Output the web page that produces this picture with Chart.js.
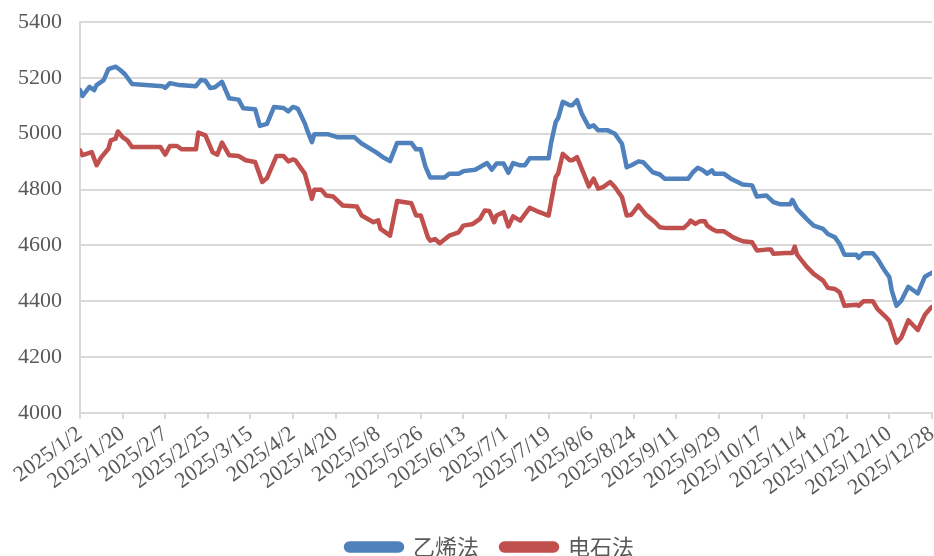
<!DOCTYPE html>
<html>
<head>
<meta charset="utf-8">
<script src="https://cdn.jsdelivr.net/npm/chart.js@4"></script>
<style>
html,body{margin:0;padding:0;background:#fff;}
#wrap{width:934px;height:556px;}
</style>
</head>
<body>
<div id="wrap"><canvas id="c" width="934" height="556"></canvas></div>
<script>
// Day offsets from 2025/1/2 and values
const startDate = [2025, 0, 2];
const tickLabelsStepDays = 18;
const seriesNames = ["乙烯法", "电石法"];

const ethDays = [0,1,4,6,7,10,12,15,17,19,22,35,36,38,42,49,51,53,55,57,
  60,63,67,69,74,76,79,82,86,88,90,92,95,96,98,99,105,109,116,119,
  125,128,131,134,140,142,144,146,148,154,156,160,162,167,172,174,176,179,181,183,
  186,188,190,198,199,201,202,204,207,208,210,212,215,217,219,223,226,229,231,233,
  236,238,242,245,247,257,259,261,263,265,267,268,272,275,280,284,286,290,293,296,
  300,301,303,307,310,314,316,319,321,323,328,329,331,335,337,340,342,343,345,347,
  350,354,357,359,360];
const ethVals = [5156,5135,5168,5156,5174,5192,5231,5240,5228,5213,5178,5170,5164,5181,5174,5170,5192,5190,5164,5166,
  5186,5127,5122,5091,5088,5028,5035,5096,5092,5080,5096,5090,5037,5012,4970,4998,4998,4987,4987,4965,
  4934,4916,4902,4967,4967,4944,4944,4881,4843,4843,4857,4857,4866,4871,4895,4871,4893,4893,4860,4895,
  4887,4887,4912,4912,4965,5042,5055,5114,5102,5102,5120,5072,5024,5030,5012,5012,5000,4964,4880,4887,
  4901,4898,4862,4854,4839,4839,4862,4878,4870,4857,4869,4857,4857,4839,4818,4815,4775,4779,4755,4747,
  4747,4763,4731,4695,4671,4659,4641,4629,4605,4567,4567,4555,4572,4572,4552,4510,4486,4438,4384,4402,
  4452,4428,4488,4498,4502];

const carbDays = [0,1,5,7,9,12,13,15,16,18,20,22,34,36,38,41,43,49,50,53,
  56,58,60,63,67,70,74,77,79,83,86,88,90,91,95,98,99,102,104,107,
  111,117,119,124,126,127,131,134,140,142,144,147,148,150,152,156,160,162,166,169,
  171,173,175,176,179,181,183,186,190,193,198,201,202,204,207,208,210,214,215,217,
  219,221,224,226,229,231,233,236,239,243,245,248,255,257,258,260,262,264,265,267,
  269,272,276,280,284,286,290,292,293,298,301,302,303,307,310,314,316,319,321,323,
  328,329,331,335,337,340,342,345,347,350,354,357,359,360];
const carbVals = [4940,4923,4934,4887,4916,4946,4976,4982,5008,4988,4976,4952,4952,4925,4956,4956,4944,4944,5004,4994,
  4934,4925,4968,4923,4920,4905,4899,4827,4841,4920,4920,4901,4908,4905,4857,4767,4799,4799,4779,4775,
  4743,4739,4707,4683,4690,4659,4635,4759,4751,4707,4707,4629,4617,4623,4608,4635,4647,4671,4677,4695,
  4725,4723,4683,4707,4719,4668,4704,4689,4735,4723,4707,4845,4857,4928,4905,4905,4916,4833,4811,4839,
  4803,4809,4827,4809,4773,4707,4710,4743,4711,4683,4665,4662,4662,4677,4689,4677,4687,4687,4671,4659,
  4651,4651,4629,4615,4611,4582,4585,4585,4570,4573,4573,4596,4567,4524,4498,4474,4448,4444,4432,4384,
  4388,4384,4400,4400,4372,4348,4330,4252,4270,4332,4297,4352,4372,4380];

const yMin = 4000, yMax = 5400, yStep = 200;
const xMax = 360;

function dayLabel(v) {
  const d = new Date(Date.UTC(startDate[0], startDate[1], startDate[2]) + v * 86400000);
  return d.getUTCFullYear() + "/" + (d.getUTCMonth() + 1) + "/" + d.getUTCDate();
}
function pts(days, vals) { return days.map((d, i) => ({x: d, y: vals[i]})); }

const gray = "#595959";
const gridC = "#d9d9d9";

const legendShift = {
  id: "legendShift",
  beforeDraw(chart) {
    const l = chart.legend;
    if (!l) return;
    const w = l.right - l.left;
    const c = 490;
    l.left = c - w / 2;
    l.right = c + w / 2;
  }
};

new Chart(document.getElementById("c"), {
  type: "line",
  data: {
    datasets: [
      {label: seriesNames[0], data: pts(ethDays, ethVals), borderColor: "#4f81bd", backgroundColor: "#4f81bd",
       borderWidth: 4.5, pointRadius: 0, tension: 0, borderJoinStyle: "round", borderCapStyle: "round"},
      {label: seriesNames[1], data: pts(carbDays, carbVals), borderColor: "#c0504d", backgroundColor: "#c0504d",
       borderWidth: 4.5, pointRadius: 0, tension: 0, borderJoinStyle: "round", borderCapStyle: "round"}
    ]
  },
  plugins: [legendShift],
  options: {
    responsive: false,
    animation: false,
    layout: {padding: {left: 2, right: 2, top: 22, bottom: -12}},
    plugins: {
      tooltip: {enabled: false},
      legend: {
        position: "bottom",
        labels: {
          color: gray,
          font: {family: "'Noto Sans CJK SC'", size: 22},
          boxWidth: 56, boxHeight: 7, padding: 22,
          useBorderRadius: true, borderRadius: 3.5
        }
      }
    },
    scales: {
      x: {
        type: "linear", min: 0, max: xMax,
        afterFit: s => { s.height = 101; s.paddingLeft = 0; s.paddingRight = 0; },
        ticks: {
          stepSize: tickLabelsStepDays, autoSkip: false,
          minRotation: 36, maxRotation: 36,
          color: gray, font: {family: "'Liberation Serif'", size: 22},
          padding: 2,
          callback: v => dayLabel(v)
        },
        grid: {display: true, drawOnChartArea: false, drawTicks: true, tickLength: 6, color: gridC, lineWidth: 2},
        border: {display: true, color: gridC, width: 2}
      },
      y: {
        min: yMin, max: yMax,
        afterFit: s => { s.width = 78; s.paddingTop = 0; s.paddingBottom = 0; },
        ticks: {stepSize: yStep, color: gray, font: {family: "'Liberation Serif'", size: 22}, padding: 18,
                callback: v => String(v)},
        grid: {color: gridC, lineWidth: 2, drawTicks: false},
        border: {display: true, color: gridC, width: 2}
      }
    }
  }
});
</script>
</body>
</html>
